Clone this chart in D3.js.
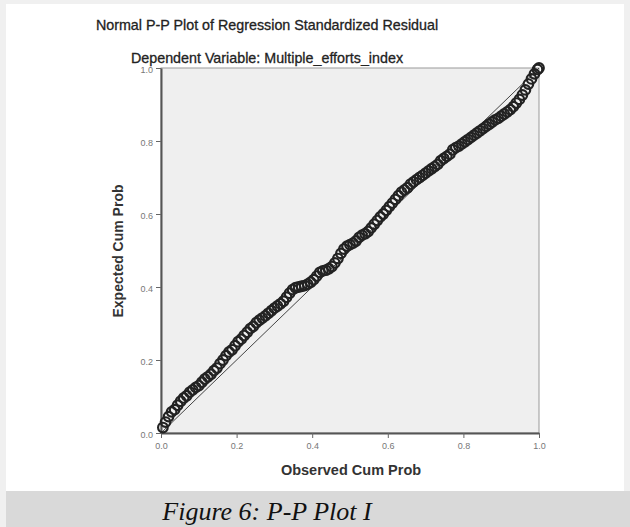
<!DOCTYPE html>
<html lang="en">
  <head>
    <meta charset="utf-8">
    <title>P-P Plot</title>
    <script src="https://cdn.jsdelivr.net/npm/d3@7"></script>
    <style>
      body { margin: 0; background: #fff; }
      text { font-family: "Liberation Sans", Arial, sans-serif; }
    </style>
  </head>
  <body>
    <script>

      // observed vs expected cumulative probability
      var obsCumProb = [0.005,0.012,0.020,0.028,0.036,0.044,0.052,0.060,0.068,0.076,0.084,0.092,0.100,0.108,0.116,0.124,0.132,0.140,0.148,0.156,
        0.164,0.172,0.180,0.188,0.196,0.204,0.212,0.220,0.228,0.236,0.244,0.252,0.260,0.268,0.276,0.284,0.292,0.300,0.308,0.316,
        0.324,0.332,0.340,0.348,0.356,0.364,0.372,0.380,0.388,0.396,0.404,0.412,0.420,0.428,0.436,0.444,0.452,0.460,0.468,0.476,
        0.484,0.492,0.500,0.508,0.516,0.524,0.532,0.540,0.548,0.556,0.564,0.572,0.580,0.588,0.596,0.604,0.612,0.620,0.628,0.636,
        0.644,0.652,0.660,0.668,0.676,0.684,0.692,0.700,0.708,0.716,0.724,0.732,0.740,0.748,0.756,0.764,0.772,0.780,0.788,0.796,
        0.804,0.812,0.820,0.828,0.836,0.844,0.852,0.860,0.868,0.876,0.884,0.892,0.900,0.908,0.916,0.924,0.932,0.940,0.948,0.956,
        0.964,0.972,0.980,0.988,0.996,1.000];
      var expCumProb = [0.015,0.030,0.045,0.058,0.064,0.076,0.087,0.096,0.102,0.112,0.118,0.125,0.130,0.139,0.148,0.154,0.161,0.171,0.178,0.190,
        0.200,0.212,0.222,0.228,0.239,0.250,0.257,0.267,0.276,0.286,0.292,0.302,0.309,0.315,0.321,0.328,0.335,0.342,0.348,0.354,
        0.361,0.372,0.383,0.393,0.398,0.400,0.402,0.404,0.408,0.413,0.420,0.430,0.440,0.444,0.446,0.450,0.456,0.466,0.478,0.492,
        0.504,0.512,0.516,0.520,0.526,0.536,0.542,0.546,0.552,0.562,0.572,0.582,0.592,0.600,0.610,0.620,0.630,0.640,0.650,0.660,
        0.666,0.672,0.682,0.688,0.694,0.700,0.706,0.712,0.718,0.724,0.730,0.736,0.746,0.752,0.758,0.764,0.776,0.782,0.786,0.792,
        0.798,0.804,0.810,0.816,0.822,0.828,0.834,0.840,0.846,0.852,0.858,0.862,0.868,0.874,0.880,0.886,0.894,0.904,0.914,0.926,
        0.940,0.956,0.970,0.984,0.996,1.000];
      var tickValues = [0, 0.2, 0.4, 0.6, 0.8, 1.0];
      var tickLabels = ["0.0", "0.2", "0.4", "0.6", "0.8", "1.0"];

      var svg = d3.select("body").append("svg")
                  .attr("width", 630)
                  .attr("height", 527);

      // page frame + caption band
      svg.append("rect").attr("width", 630).attr("height", 527).style("fill", "#f0f0f0");
      svg.append("rect").attr("x", 6).attr("y", 4).attr("width", 618).attr("height", 487).style("fill", "#fff");
      svg.append("rect").attr("x", 6).attr("y", 491).attr("width", 624).attr("height", 36).style("fill", "#d9d9d9");
      svg.append("text")
         .attr("x", 267).attr("y", 520)
         .attr("text-anchor", "middle")
         .style("font-family", "'Liberation Serif', 'Times New Roman', serif")
         .style("font-style", "italic")
         .style("font-size", "26px")
         .style("fill", "#111")
         .text("Figure 6: P-P Plot I");

      var x = d3.scaleLinear().domain([0, 1]).range([161, 539]);
      var y = d3.scaleLinear().domain([0, 1]).range([433, 68]);

      // plot background
      svg.append("rect")
         .attr("x", x(0)).attr("y", y(1))
         .attr("width", x(1) - x(0)).attr("height", y(0) - y(1))
         .style("fill", "#efefef")
         .style("stroke", "#999")
         .style("stroke-width", 1);

      // titles
      svg.append("text")
         .attr("x", 267).attr("y", 30)
         .attr("text-anchor", "middle")
         .style("font-size", "14.3px")
         .style("fill", "#222")
         .style("stroke", "#222").style("stroke-width", 0.3)
         .text("Normal P-P Plot of Regression Standardized Residual");
      svg.append("text")
         .attr("x", 267).attr("y", 63)
         .attr("text-anchor", "middle")
         .style("font-size", "14.3px")
         .style("fill", "#222")
         .style("stroke", "#222").style("stroke-width", 0.3)
         .text("Dependent Variable: Multiple_efforts_index");

      // axes
      var xAxis = d3.axisBottom(x).tickValues(tickValues).tickSize(5).tickSizeOuter(0)
                    .tickFormat(function(d, i) { return tickLabels[i]; });
      var yAxis = d3.axisLeft(y).tickValues(tickValues).tickSize(5).tickSizeOuter(0)
                    .tickFormat(function(d, i) { return tickLabels[i]; });

      var gx = svg.append("g").attr("transform", "translate(0," + y(0) + ")").call(xAxis);
      var gy = svg.append("g").attr("transform", "translate(" + x(0) + ",0)").call(yAxis);
      [gx, gy].forEach(function(g) {
        g.select(".domain").style("stroke", "#555").style("stroke-width", 2);
        g.selectAll(".tick line").style("stroke", "#666");
        g.selectAll(".tick text").style("font-family", "'Liberation Sans', Arial, sans-serif")
         .style("font-size", "9px").style("fill", "#777");
      });
      gx.selectAll(".tick text").attr("dy", "0.9em");
      gy.selectAll(".tick text").attr("dy", "0.45em");

      svg.append("text")
         .attr("x", 351).attr("y", 475)
         .attr("text-anchor", "middle")
         .style("font-size", "14.5px").style("font-weight", "bold")
         .style("fill", "#333")
         .text("Observed Cum Prob");
      svg.append("text")
         .attr("transform", "translate(123,251) rotate(-90)")
         .attr("text-anchor", "middle")
         .style("font-size", "14px").style("font-weight", "bold")
         .style("fill", "#333")
         .text("Expected Cum Prob");

      // reference diagonal
      svg.append("line")
         .attr("x1", x(0)).attr("y1", y(0))
         .attr("x2", x(1)).attr("y2", y(1))
         .style("stroke", "#444").style("stroke-width", 1);

      // residual points
      svg.selectAll("circle.pt")
         .data(obsCumProb)
         .enter().append("circle")
         .attr("class", "pt")
         .attr("cx", function(d) { return x(d); })
         .attr("cy", function(d, i) { return y(expCumProb[i]); })
         .attr("r", 4.8)
         .style("fill", "none")
         .style("stroke", "#222")
         .style("stroke-width", 2.2);

    </script>
  </body>
</html>
